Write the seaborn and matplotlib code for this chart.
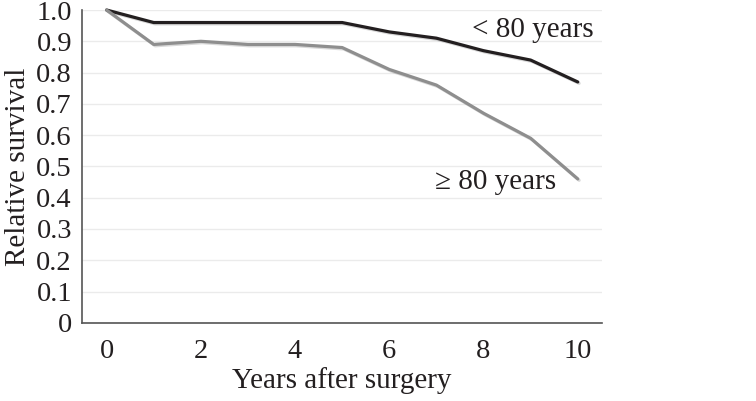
import pandas as pd
import seaborn as sns
import matplotlib.pyplot as plt
import matplotlib.patheffects as pe

years = [0, 1, 2, 3, 4, 5, 6, 7, 8, 9, 10]
under_80 = [1.0, 0.96, 0.96, 0.96, 0.96, 0.96, 0.93, 0.91, 0.87, 0.84, 0.77]
over_80 = [1.0, 0.89, 0.90, 0.89, 0.89, 0.88, 0.81, 0.76, 0.67, 0.59, 0.46]
groups = ["< 80 years", "\u2265 80 years"]

df = pd.DataFrame({
    "Years after surgery": years * 2,
    "Relative survival": under_80 + over_80,
    "group": [groups[0]] * len(years) + [groups[1]] * len(years),
})

sns.set_style("white")
plt.rcParams["font.family"] = ["Liberation Serif", "DejaVu Serif"]

fig, ax = plt.subplots(figsize=(7.56, 4.01), dpi=100)
fig.subplots_adjust(left=0.108, right=0.796, top=0.975, bottom=0.195)

shadow = [pe.SimpleLineShadow(offset=(1, -1), alpha=0.15), pe.Normal()]
sns.lineplot(data=df, x="Years after surgery", y="Relative survival", hue="group",
             palette=["#231f20", "#8e8e8e"], linewidth=2.3, legend=False, ax=ax,
             path_effects=shadow, clip_on=False)

ax.set_xlim(-0.53, 10.51)
ax.set_ylim(0, 1.0)
ax.set_xticks([0, 2, 4, 6, 8, 10])
ax.set_yticks([i / 10 for i in range(11)])
ax.set_yticklabels(["0"] + [f"{i / 10:.1f}" for i in range(1, 11)])
ax.yaxis.grid(True, color="#ebebeb", linewidth=1)
ax.set_axisbelow(True)

for s in ["top", "right"]:
    ax.spines[s].set_visible(False)
for s in ["left", "bottom"]:
    ax.spines[s].set_color("#555555")
    ax.spines[s].set_linewidth(1.2)

ax.tick_params(axis="both", labelsize=20.5, colors="#231f20", direction="out",
               length=4, width=1)
ax.tick_params(axis="y", pad=3)
ax.tick_params(axis="x", pad=8)
ax.set_xlabel("Years after surgery", fontsize=21, color="#231f20", labelpad=2)
ax.set_ylabel("Relative survival", fontsize=21, color="#231f20", labelpad=4)

ax.text(9.05, 0.937, groups[0], fontsize=21, color="#231f20", ha="center", va="center")
ax.text(8.26, 0.45, groups[1], fontsize=21, color="#231f20", ha="center", va="center")

fig.savefig("out.png", dpi=100)
